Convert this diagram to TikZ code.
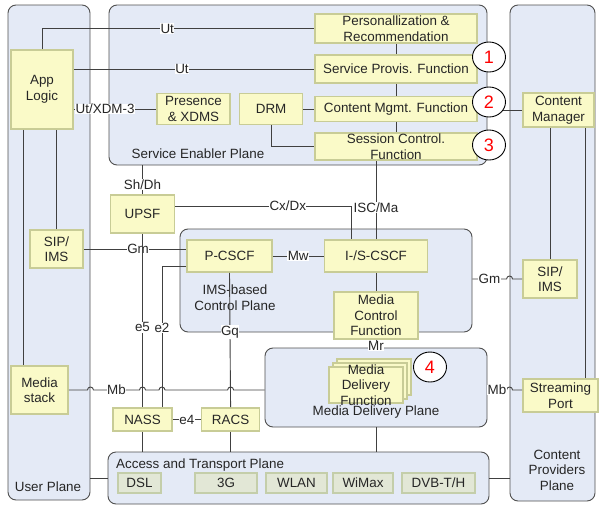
\documentclass[tikz,border=0pt]{standalone}
\usepackage{fontspec}
\setmainfont{Liberation Sans}
\usepackage{xcolor}
\usepackage{tikz}
\usetikzlibrary{shapes.geometric, positioning, calc}

\definecolor{planefill}{RGB}{228,234,246}
\definecolor{planeline}{RGB}{80,80,80}
\definecolor{fnfill}{RGB}{250,250,200}
\definecolor{fnline}{RGB}{200,204,150}
\definecolor{netfill}{RGB}{226,231,214}
\definecolor{netline}{RGB}{196,206,170}
\definecolor{wirecol}{RGB}{64,64,64}

\begin{document}
\begin{tikzpicture}[x=1pt, y=-1pt,
    every node/.style={font=\fontsize{13.4}{15.5}\selectfont, text=black!85},
    plane/.style={draw=planeline, fill=planefill, rounded corners=8pt, line width=0.9pt, inner sep=0pt},
    fn/.style={draw=fnline, fill=fnfill, line width=1.6pt, inner sep=0pt, align=center},
    net/.style={draw=netline, fill=netfill, line width=1.6pt, inner sep=0pt, minimum height=20pt},
    wire/.style={draw=wirecol, line width=0.9pt},
    lbl/.style={fill=white, inner sep=0.5pt},
    num/.style={ellipse, draw=black, fill=white, line width=0.9pt, minimum width=33pt, minimum height=30pt, inner sep=0pt, text=red, font=\fontsize{18}{18}\selectfont}]

      \useasboundingbox (0, 0) rectangle (600, 506);

      \node[plane, minimum width=82pt, minimum height=495pt] (userplane) at (49, 252.5) {};
      \node[plane, minimum width=378pt, minimum height=160pt] (seplane) at (298, 85) {};
      \node[plane, minimum width=85pt, minimum height=496pt] (cpplane) at (552.5, 253) {};
      \node[plane, minimum width=292pt, minimum height=103pt] (imsplane) at (326, 280.5) {};
      \node[plane, minimum width=222pt, minimum height=79pt] (mdplane) at (376, 387.5) {};
      \node[plane, minimum width=381pt, minimum height=52pt] (atplane) at (298.5, 478) {};

      \node (userlbl) at (48, 487) {User Plane};
      \node (selbl) at (198, 154) {Service Enabler Plane};
      \node[align=center] (imslbl) at (235, 297.5) {IMS-based\\Control Plane};
      \node (mdlbl) at (376, 412) {Media Delivery Plane};
      \node[align=center] (cplbl) at (557, 470) {Content\\Providers\\Plane};
      \node[anchor=west, inner sep=0pt] (atlbl) at (116, 465) {Access and Transport Plane};

      \node[fn, minimum width=62pt, minimum height=79pt] (applogic) at (42, 89.5) {App\\Logic};
      \node[fn, minimum width=53pt, minimum height=38pt] (sipl) at (56.5, 249) {SIP/\\IMS};
      \node[fn, minimum width=57pt, minimum height=48pt] (mstack) at (39.5, 390) {Media\\stack};
      \node[fn, minimum width=73pt, minimum height=31pt] (presence) at (193.5, 109) {Presence\\\& XDMS};
      \node[fn, minimum width=63pt, minimum height=31pt, right=8pt of presence] (drm) {DRM};
      \node[fn, minimum width=162pt, minimum height=29pt] (perso) at (396, 28.5) {Personallization \&\\Recommendation};
      \node[fn, minimum width=162pt, minimum height=28pt] (sprov) at (396, 69) {Service Provis. Function};
      \node[fn, minimum width=162pt, minimum height=25pt] (cmgmt) at (396, 109) {Content Mgmt. Function};
      \node[fn, minimum width=162pt, minimum height=27pt] (sctrl) at (396, 146.5) {Session Control.\\Function};
      \node[fn, minimum width=64pt, minimum height=38pt] (upsf) at (142.5, 214) {UPSF};
      \node[fn, minimum width=85pt, minimum height=32pt] (pcscf) at (229.5, 256) {P-CSCF};
      \node[fn, minimum width=103pt, minimum height=32pt] (iscscf) at (376, 256) {I-/S-CSCF};
      \node[fn, minimum width=84pt, minimum height=47pt] (mcf) at (376, 315.5) {Media\\Control\\Function};
      \node[fn, minimum width=59pt, minimum height=23pt] (nass) at (142.5, 419.5) {NASS};
      \node[fn, minimum width=58pt, minimum height=23pt, right=28pt of nass] (racs) {RACS};
      \node[fn, minimum width=71pt, minimum height=34pt] (cmgr) at (558.5, 110) {Content\\Manager};
      \node[fn, minimum width=54pt, minimum height=38pt] (sipr) at (550, 279) {SIP/\\IMS};
      \node[fn, minimum width=75pt, minimum height=33pt] (stream) at (560.5, 395.5) {Streaming\\Port};

      \node[fn, minimum width=74pt, minimum height=36pt] (mdfback) at (374, 377) {};
      \node[fn, minimum width=74pt, minimum height=36pt] (mdfmid) at (370, 381) {};
      \node[fn, minimum width=74pt, minimum height=36pt] (mdf) at (366, 385) {};
      \node[align=center] (mdftext) at (mdf) {Media\\Delivery\\Function};

      \node[net, minimum width=43pt] (dsl) at (139.5, 483) {DSL};
      \node[net, minimum width=62pt] (threeg) at (226, 483) {3G};
      \node[net, minimum width=61pt] (wlan) at (296.5, 483) {WLAN};
      \node[net, minimum width=60pt] (wimax) at (363, 483) {WiMax};
      \node[net, minimum width=73pt] (dvb) at (438.5, 483) {DVB-T/H};

      \coordinate (e2x) at ([xshift=19.5pt]nass.north);

      \draw[wire] (applogic.north) |- node[lbl, pos=0.73] {Ut} (perso.west);
      \draw[wire] (applogic.east |- sprov.west) -- node[lbl, pos=0.45] {Ut} (sprov.west);
      \draw[wire] (applogic.east |- presence.west) -- node[lbl, pos=0.38] {Ut/XDM-3} (presence.west);
      \draw[wire] (drm.east) -- (cmgmt.west);
      \draw[wire] (drm.south) |- (sctrl.west);
      \draw[wire] (perso.south) -- (sprov.north);
      \draw[wire] (sprov.south) -- (cmgmt.north);
      \draw[wire] (cmgmt.south) -- (sctrl.north);
      \draw[wire] (cmgr.west) -- (cmgr.west -| seplane.east);

      \draw[wire] ([xshift=-19pt]applogic.south) -- ([xshift=-19pt]applogic.south |- mstack.north);
      \draw[wire] (sipl.north) -- (sipl.north |- applogic.south);

      \draw[wire] (upsf.north) -- node[lbl, pos=0.33] {Sh/Dh} (upsf.north |- seplane.south);
      \draw[wire] ([yshift=8pt]upsf.east) -| node[lbl, pos=0.32] {Cx/Dx} ([xshift=-25pt]iscscf.north);
      \draw[wire] (iscscf.north) -- node[lbl, pos=0.4] {ISC/Ma} (iscscf.north |- sctrl.south);
      \draw[wire] (pcscf.east) -- node[lbl] {Mw} (iscscf.west);
      \draw[wire] (sipl.east) -- node[lbl, pos=0.53] {Gm} (sipl.east -| pcscf.west);
      \draw[wire] (iscscf.south) -- (mcf.north);
      \draw[wire] (mcf.south) -- node[lbl, pos=0.78] {Mr} (mdplane.north);
      \draw[wire] (upsf.south) -- node[lbl, pos=0.54] {e5} (nass.north);
      \draw[wire] ([yshift=-10pt]pcscf.west) -| node[lbl, pos=0.72] {e2} (e2x);
      \draw[wire] (pcscf.south) -- node[lbl, pos=0.44] {Gq} (racs.north);
      \draw[wire] (nass.east) -- node[lbl] {e4} (racs.west);

      \draw[wire] (nass.south) -- (nass.south |- atplane.north);
      \draw[wire] (racs.south) -- (racs.south |- atplane.north);
      \draw[wire] (mdplane.south) -- (mdplane.south |- atplane.north);
      \draw[wire] (atplane.west) -- (atplane.west -| userplane.east);
      \draw[wire] (atplane.east) -- (atplane.east -| cpplane.west);
      \draw[wire] (sipr.north) -- (sipr.north |- cmgr.south);
      \draw[wire] ([xshift=24.5pt]stream.north) -- ([xshift=24.5pt]stream.north |- cmgr.south);

      \draw[wire] (imsplane.east |- sipr.west) -- node[lbl] {Gm} ([xshift=-3pt]sipr.west -| cpplane.west)
        arc[start angle=180, end angle=0, radius=3pt] -- (sipr.west);
      \draw[wire] (mstack.east) -- ([xshift=-3pt]mstack.east -| userplane.east)
        arc[start angle=180, end angle=0, radius=3pt] -- node[lbl] {Mb} ([xshift=-3pt]mstack.east -| nass.north)
        arc[start angle=180, end angle=0, radius=3pt] -- ([xshift=-3pt]mstack.east -| e2x)
        arc[start angle=180, end angle=0, radius=3pt] -- ([xshift=-3pt]mstack.east -| racs.north)
        arc[start angle=180, end angle=0, radius=3pt] -- (mstack.east -| mdplane.west);
      \draw[wire] (mdplane.east |- mstack.east) -- node[lbl] {Mb} ([xshift=-3pt]mstack.east -| cpplane.west)
        arc[start angle=180, end angle=0, radius=3pt] -- ([yshift=5.5pt]stream.west);

      \node[num] (num1) at (489, 57) {1};
      \node[num] (num2) at (489, 102) {2};
      \node[num] (num3) at (489, 145) {3};
      \node[num] (num4) at (430, 367) {4};
    \end{tikzpicture}
\end{document}
